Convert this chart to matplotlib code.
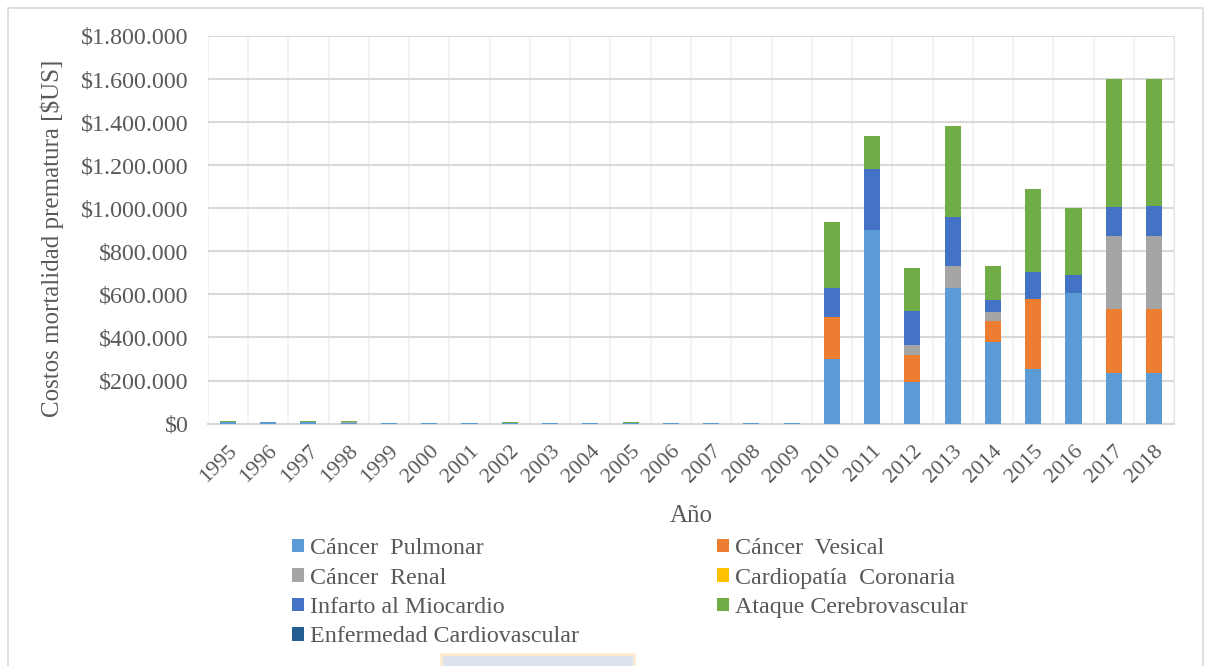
import numpy as np
import matplotlib
matplotlib.use('Agg')
from matplotlib import pyplot as plt
from matplotlib.ticker import FuncFormatter, MultipleLocator
from matplotlib.patches import Rectangle

plt.rcParams['font.family'] = ['Liberation Serif', 'DejaVu Serif']

years = [str(y) for y in range(1995, 2019)]

# values in $US, one entry per year 1995..2018
pulmonar = [7000, 9000, 8000, 2000, 1500, 1500, 1500, 1500, 2000, 1500, 1000, 2500, 2000, 1500, 1500,
            300000, 900000, 193000, 630000, 379000, 254000, 608000, 234000, 237000]
vesical = [0, 0, 0, 0, 0, 0, 0, 0, 0, 0, 0, 0, 0, 0, 0,
           193000, 0, 124000, 0, 97000, 324000, 0, 300000, 297000]
renal = [0, 0, 0, 3000, 1000, 1000, 1000, 1500, 0, 1000, 1000, 500, 0, 1000, 1000,
         0, 0, 48000, 103000, 41000, 0, 0, 335000, 338000]
coronaria = [0] * 24
infarto = [0] * 15 + [137000, 282000, 159000, 224000, 58000, 127000, 83000, 136000, 138000]
ataque = [5000, 0, 5000, 5000, 2000, 2000, 2000, 3000, 2000, 2000, 3000, 1000, 2000, 2000, 2000,
          304000, 154000, 197000, 424000, 155000, 385000, 310000, 593000, 591000]
enfermedad = [0] * 24

series = [
    ('Cáncer  Pulmonar', pulmonar, '#5B9BD5'),
    ('Cáncer  Vesical', vesical, '#ED7D31'),
    ('Cáncer  Renal', renal, '#A5A5A5'),
    ('Cardiopatía  Coronaria', coronaria, '#FFC000'),
    ('Infarto al Miocardio', infarto, '#4472C4'),
    ('Ataque Cerebrovascular', ataque, '#70AD47'),
    ('Enfermedad Cardiovascular', enfermedad, '#255E91'),
]

fig = plt.figure(figsize=(12.08, 6.66), dpi=100)
ax = fig.add_axes([0.172, 0.364, 0.800, 0.582])

x = np.arange(len(years))
bottom = np.zeros(len(years))
handles = {}
for name, vals, col in series:
    vals = np.array(vals, dtype=float)
    b = ax.bar(x, vals, 0.4, bottom=bottom, color=col, edgecolor='none', label=name, zorder=3)
    handles[name] = b
    bottom += vals

ax.set_xlim(-0.5, len(years) - 0.5)
ax.set_ylim(0, 1800000)
ax.yaxis.set_major_locator(MultipleLocator(200000))
ax.yaxis.set_major_formatter(FuncFormatter(lambda v, p: '$' + format(int(v), ',').replace(',', '.')))
ax.set_xticks(x)
ax.set_xticklabels(years, rotation=45, ha='right', rotation_mode='anchor')
ax.set_xticks(np.arange(-0.5, len(years), 0.5), minor=True)

ax.grid(axis='y', which='major', color='#D9D9D9', lw=1.5, zorder=0)
ax.grid(axis='x', which='minor', color='#F0F0F0', lw=1.2, zorder=0)
ax.tick_params(axis='both', which='both', length=0, colors='#595959')
ax.tick_params(axis='y', labelsize=17.3, pad=14)
ax.tick_params(axis='x', labelsize=16, pad=13)
for s in ['top', 'left']:
    ax.spines[s].set_visible(False)
ax.spines['right'].set_color('#E6E6E6')
ax.spines['bottom'].set_color('#D9D9D9')
ax.spines['bottom'].set_linewidth(1.5)

ax.set_ylabel('Costos mortalidad prematura [$US]', fontsize=18, color='#595959')
ax.yaxis.set_label_coords(-0.1485, 0.477)
ax.set_xlabel('Año', fontsize=18, color='#595959')
ax.xaxis.set_label_coords(0.5, -0.211)

order = ['Cáncer  Pulmonar', 'Cáncer  Renal', 'Infarto al Miocardio', 'Enfermedad Cardiovascular',
         'Cáncer  Vesical', 'Cardiopatía  Coronaria', 'Ataque Cerebrovascular']
leg = fig.legend([handles[n] for n in order], order, ncol=2, loc='upper left',
                 bbox_to_anchor=(0.2417, 0.192), frameon=False, fontsize=17.3,
                 handlelength=0.5, handleheight=0.5, handletextpad=0.25,
                 columnspacing=5.75, labelspacing=0.35, borderaxespad=0, borderpad=0)
for t in leg.get_texts():
    t.set_color('#595959')

# figure border and small box at the bottom
fig.patches.append(Rectangle((8 / 1208, -0.01), 1195 / 1208, 1 - 8 / 666 + 0.01, transform=fig.transFigure,
                             fill=False, ec='#D9D9D9', lw=1.2))
fig.patches.append(Rectangle((0.365, -0.01), 0.16, 0.028, transform=fig.transFigure,
                             fc='#DCE3EC', ec='#FCEBD0', lw=2))

fig.savefig('out.png', dpi=100)
